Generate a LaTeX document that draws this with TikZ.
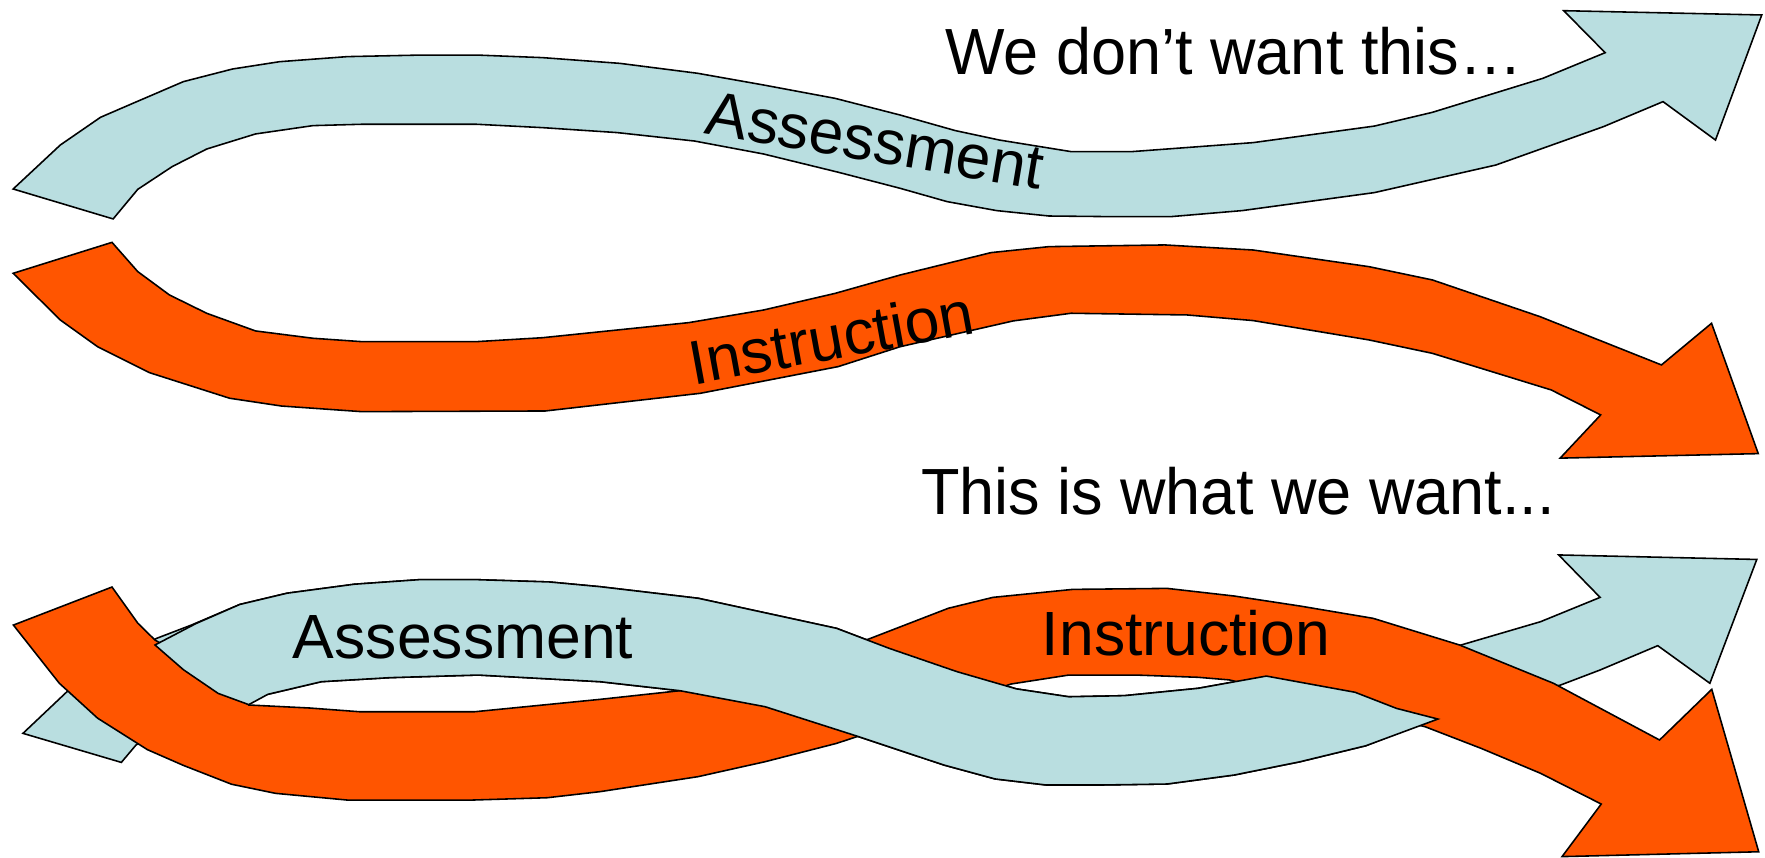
\documentclass[tikz,border=0pt]{standalone}
\usepackage{fontspec}
\setmainfont{Liberation Sans}
\definecolor{ablue}{RGB}{185,222,224}
\definecolor{aorange}{RGB}{255,85,0}
\begin{document}
\begin{tikzpicture}[x=1pt,y=-1pt,
  blueribbon/.style={fill=ablue,draw=black,line width=1.4pt,line join=miter},
  orangeribbon/.style={fill=aorange,draw=black,line width=1.4pt,line join=miter},
  lbl/.style={inner sep=0pt,font=\fontsize{55.5}{66}\selectfont},
  ttl/.style={inner sep=0pt,font=\fontsize{58}{68}\selectfont,xscale=0.965}]
\useasboundingbox (0,0) rectangle (1568,762);

% ---------- top: Assessment arrow ----------
\draw[blueribbon] (11.7,167.9) -- (53.6,128.8) -- (89.3,104.2) -- (125,88.8) -- (163,72.5) -- (206.6,61.3) -- (248.4,54.8) -- (308.6,50.3) -- (374.9,48.9) -- (423.3,48.9) -- (482,51.2) -- (550.8,56.3) -- (619.7,65.1) -- (678.3,75.5) -- (742,87.4) -- (799.7,102.2) -- (848.6,116) -- (887.8,124.4) -- (951.5,134.7) -- (1005.4,134.7) -- (1113.3,126.7) -- (1221,112) -- (1272.5,99.8) -- (1370.6,69.6) -- (1426,46.8) -- (1389.2,9.5) -- (1565.1,13.3) -- (1524,124.4) -- (1477.4,90.3) -- (1424.5,112.5) -- (1328.9,146.6) -- (1221,171.1) -- (1103.5,187.1) -- (1039.7,192.5) -- (990.7,192.5) -- (931.9,191.9) -- (885.4,187.1) -- (841.3,179.1) -- (799.7,167.3) -- (744.6,153) -- (678.3,136.8) -- (617,125.3) -- (548.3,117.8) -- (482,113.4) -- (423.3,110.4) -- (321.3,110.4) -- (278,111.6) -- (227,119) -- (183.6,132.4) -- (153,148) -- (122.4,168.2) -- (100.5,194.5) -- cycle;

% ---------- top: Instruction arrow ----------
\draw[orangeribbon] (99.5,215.3) -- (122.4,241.3) -- (150.5,262) -- (183.6,278.3) -- (227,294) -- (278,300.5) -- (321.3,303.5) -- (423.3,303.5) -- (482,300) -- (612,286.6) -- (678.3,275.4) -- (742,260.6) -- (799.7,244.3) -- (880.5,224.4) -- (931.9,219.1) -- (1034.8,217.6) -- (1113.3,222.1) -- (1216.2,236.9) -- (1272.5,248.7) -- (1368.1,281.3) -- (1476,324.2) -- (1520.5,287.2) -- (1562,403) -- (1386,407) -- (1422,368.6) -- (1378,346.4) -- (1272.5,313.9) -- (1216.2,302) -- (1113.3,284.8) -- (1054.5,279.8) -- (951.5,278.3) -- (900.1,285.1) -- (799.7,308) -- (744.6,325.7) -- (622.2,349.4) -- (484.5,365.1) -- (321.3,365.7) -- (250,360.7) -- (204,353.8) -- (132.6,331) -- (86.7,308) -- (53.6,284.3) -- (11.7,242.8) -- cycle;

\node[lbl,anchor=base,rotate=-9.5] (a1) at (774.4,143.6) {Assessment};
\node[lbl,anchor=base,rotate=10.4] (i1) at (741.9,319) {Instruction};
\node[ttl,anchor=base west] (t1) at (839.8,66.6) {We don’t want this…};
\node[ttl,anchor=base west] (t2) at (818,457.5) {This is what we want...};

% ---------- bottom: Assessment arrow (underneath) ----------
\draw[blueribbon] (20.4,651.5) -- (59.5,614.5) -- (100,588) -- (139.4,567) -- (170,555.3) -- (213,537) -- (255,527) -- (315,519) -- (372,515) -- (425,515) -- (488,517) -- (533,521.2) -- (620.3,531.5) -- (743.2,558.2) -- (790,576) -- (850.2,596.7) -- (903,612) -- (949.5,619) -- (999,618) -- (1064.3,611.5) -- (1125,600.6) -- (1298,573) -- (1368.6,552.3) -- (1421.5,530.7) -- (1384.7,493) -- (1560.7,497) -- (1519,607) -- (1472.7,573.6) -- (1421.5,595.2) -- (1386.3,608.6) -- (1340,620) -- (1285,634) -- (1250,648) -- (1213.4,662.5) -- (1155,676.7) -- (1096.5,688.5) -- (1036.8,696.5) -- (977,697.4) -- (929.6,697.4) -- (884,692) -- (838.4,679.6) -- (763,654.5) -- (679.6,627.8) -- (604,613.6) -- (533,605.6) -- (424.8,599.7) -- (346.7,602) -- (285.5,605.6) -- (238,616.8) -- (200,621) -- (160,636) -- (120.7,662) -- (107.8,677.3) -- cycle;

% ---------- bottom: Instruction arrow ----------
\draw[orangeribbon] (11.9,555.3) -- (99.5,521.5) -- (122.5,553.7) -- (137.7,568.6) -- (175,590) -- (210,612) -- (221,626.3) -- (275.4,629) -- (319.5,632.3) -- (421.6,632.3) -- (533,621.3) -- (604,613.6) -- (771,568) -- (842.4,540.4) -- (882,530.7) -- (953,523.6) -- (1036.8,522.7) -- (1096.5,529.5) -- (1155,538.4) -- (1219.8,549.3) -- (1296.6,573) -- (1380,607) -- (1474.3,657.4) -- (1520.7,612.4) -- (1562.4,756.7) -- (1387.7,761) -- (1422.5,714.3) -- (1368.6,687) -- (1315.7,664.8) -- (1266,645.6) -- (1092,604) -- (1064.3,601.7) -- (1009,599.7) -- (949.5,599.7) -- (898,607.7) -- (761,654.5) -- (743.2,660.4) -- (679.6,676.7) -- (620,690) -- (533,703.3) -- (486,708.7) -- (418,710.8) -- (309,710.8) -- (244.8,704.8) -- (205.7,696.7) -- (163,680) -- (131,666) -- (86.7,638) -- (52.7,607) -- cycle;

% ---------- bottom: Assessment over-crossing part ----------
\draw[blueribbon] (137.7,573) -- (174,554) -- (213,537) -- (255,527) -- (315,519) -- (372,515) -- (425,515) -- (488,517) -- (533,521.2) -- (620.3,531.5) -- (743.2,558.2) -- (790,576) -- (850.2,596.7) -- (903,612) -- (949.5,619) -- (999,618) -- (1064.3,611.5) -- (1125,600.6) -- (1203.8,615) -- (1240.6,629.3) -- (1277.4,638.8) -- (1213.4,662.5) -- (1155,676.7) -- (1096.5,688.5) -- (1036.8,696.5) -- (977,697.4) -- (929.6,697.4) -- (884,692) -- (838.4,679.6) -- (763,654.5) -- (679.6,627.8) -- (604,613.6) -- (533,605.6) -- (424.8,599.7) -- (346.7,602) -- (285.5,605.6) -- (238,616.8) -- (221,626) -- (193.8,616) -- (163,595) -- cycle;

\node[lbl,anchor=base west] (a2) at (260,584.9) {Assessment};
\node[lbl,anchor=base west] (i2) at (925.4,582) {Instruction};
\end{tikzpicture}
\end{document}
